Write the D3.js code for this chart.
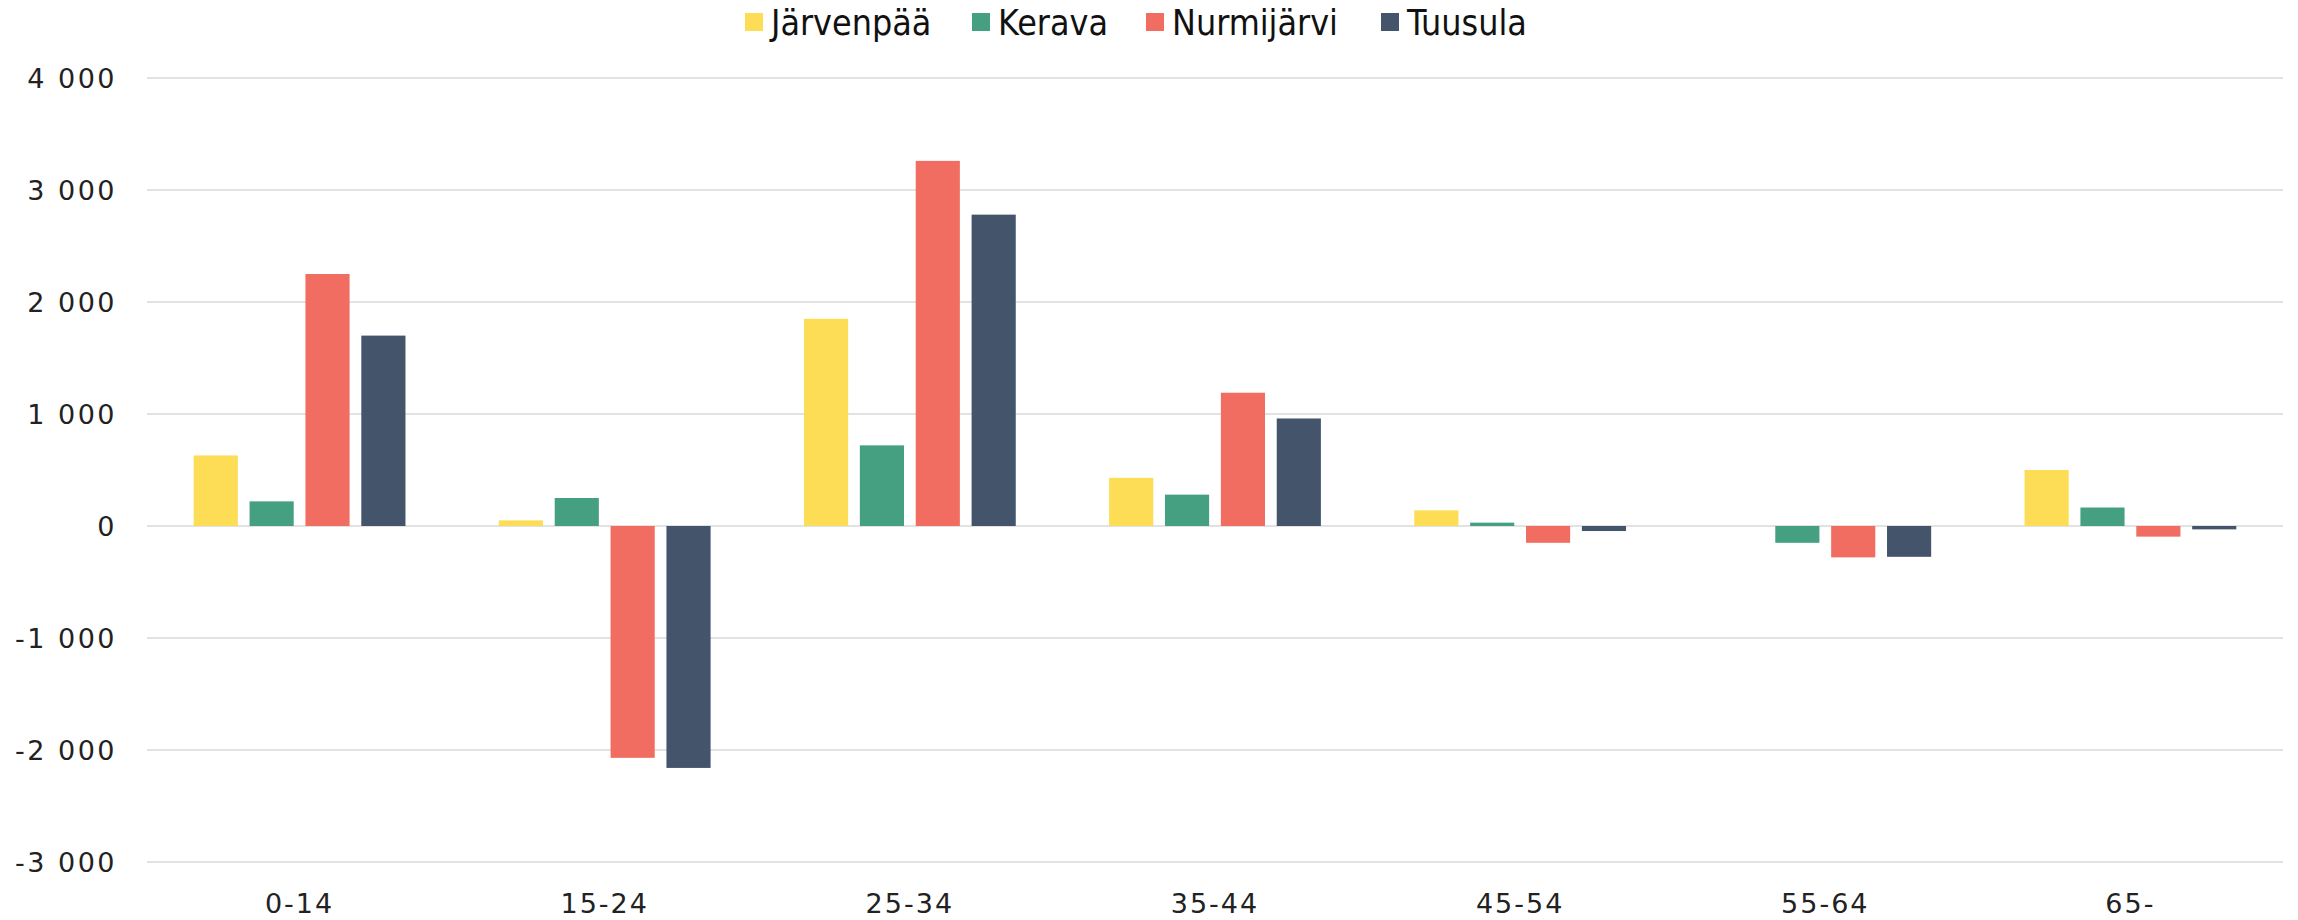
<!DOCTYPE html>
<html><head><meta charset="utf-8">
<script src="https://cdn.jsdelivr.net/npm/d3@7"></script>
<style>body{margin:0;background:#fff}svg{display:block}</style>
</head><body><svg id="c" width="2298" height="920"></svg>
<script>
const categories = ["0-14","15-24","25-34","35-44","45-54","55-64","65-"];
const seriesNames = ["Järvenpää","Kerava","Nurmijärvi","Tuusula"];
const colors = ["#FCDD55","#45A082","#F26D61","#43546B"];
const jarvenpaa  = [630, 50, 1850, 430, 140, 0, 500];
const kerava     = [220, 250, 720, 280, 30, -150, 165];
const nurmijarvi = [2250, -2070, 3260, 1190, -150, -280, -95];
const tuusula    = [1700, -2160, 2780, 960, -45, -275, -30];
const yTicks = [-3000,-2000,-1000,0,1000,2000,3000,4000];
const values = [jarvenpaa, kerava, nurmijarvi, tuusula];

(function(){
const svg = d3.select("#c");
const pLeft = 147, pRight = 2283, pTop = 78, pBottom = 862;
const y = d3.scaleLinear().domain([-3000,4000]).range([pBottom, pTop]);
const x0 = d3.scaleBand().domain(categories).range([pLeft,pRight]).padding(0);
const bw = x0.bandwidth();
const x1 = d3.scaleBand().domain(seriesNames).range([bw*0.153, bw*0.847]).paddingInner(0.21).paddingOuter(0);
const fmt = v => v === 0 ? "0" : d3.format(",")(v).replace(/,/g, " ").replace("−", "-");
const axisFont = "'DejaVu Sans', sans-serif";

svg.append("g").selectAll("line").data(yTicks).join("line")
  .attr("x1", pLeft).attr("x2", pRight)
  .attr("y1", d=>y(d)).attr("y2", d=>y(d))
  .attr("stroke", "#d9d9d9").attr("stroke-width", 1.5);

svg.append("g").selectAll("text").data(yTicks).join("text")
  .attr("x", 117).attr("y", d=>y(d)).attr("dy","0.36em")
  .attr("text-anchor","end")
  .attr("font-family",axisFont).attr("font-size", 27).attr("letter-spacing", 2.5).attr("fill","#222")
  .text(fmt);

const g = svg.append("g");
seriesNames.forEach((s, si) => {
  g.append("g").selectAll("rect").data(categories).join("rect")
    .attr("x", c => x0(c) + x1(s))
    .attr("width", x1.bandwidth())
    .attr("y", (c,i) => y(Math.max(0, values[si][i])))
    .attr("height", (c,i) => Math.abs(y(values[si][i]) - y(0)))
    .attr("fill", colors[si]);
});

svg.append("g").selectAll("text").data(categories).join("text")
  .attr("x", c => x0(c) + bw/2).attr("y", 903).attr("dy","0.36em")
  .attr("text-anchor","middle")
  .attr("font-family",axisFont).attr("font-size", 27).attr("letter-spacing", 2).attr("fill","#222")
  .text(d=>d);

const legX = [745, 972, 1146, 1381];
const lg = svg.append("g");
seriesNames.forEach((s, i) => {
  lg.append("rect").attr("x", legX[i]).attr("y", 13).attr("width", 18).attr("height", 18).attr("fill", colors[i]);
  lg.append("text").attr("x", legX[i] + 26).attr("y", 22).attr("dy","0.36em")
    .attr("font-family","'Liberation Sans Narrow','DejaVu Sans Condensed', sans-serif").attr("font-size", 35.5).attr("fill","#111")
    .text(s);
});
})();
</script></body></html>
